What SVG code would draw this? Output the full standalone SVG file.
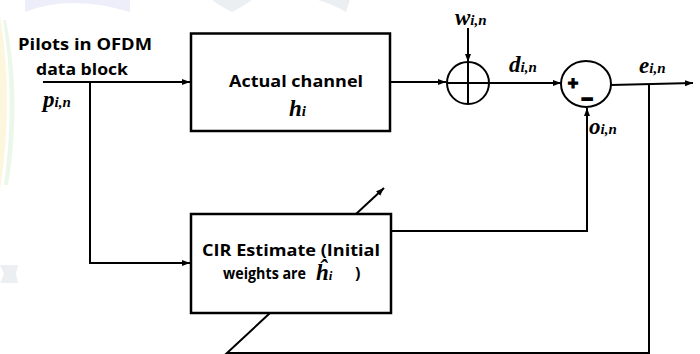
<svg xmlns="http://www.w3.org/2000/svg" width="700" height="354" viewBox="0 0 700 354">
<style>
.ln{fill:none;stroke:#000;stroke-width:2}
.box{fill:#fff;stroke:#000;stroke-width:2.5}
.lbl{font-family:"Open Sans","Liberation Sans",sans-serif;font-weight:bold;font-size:16px;fill:#000}
.m{font-family:"Liberation Serif","DejaVu Serif",serif;font-weight:bold;font-style:italic;font-size:23px;fill:#000}
.s{font-size:15px}
.sym{font-family:"Liberation Sans",sans-serif;font-weight:bold;fill:#000;stroke:#000}
</style>
<defs>
<marker id="ah" markerUnits="userSpaceOnUse" markerWidth="9" markerHeight="7" refX="8" refY="3" orient="auto">
<path d="M0,0 L8,3 L0,6 z" fill="#000"/>
</marker>
</defs>
<rect width="700" height="354" fill="#fff"/>
<g id="watermark" opacity="0.6">
<path d="M0,15 Q14,100 0,190 L0,15 z" fill="#fbf1c8"/>
<path d="M6,20 Q22,100 8,185 L4,185 Q16,100 3,20 z" fill="#dff2dc"/>
<path d="M25,12 Q70,-6 130,12 L130,0 L25,0 z" fill="#e2e4f8"/>
<path d="M212,0 L252,0 Q240,8 232,12 Q220,6 212,0 z" fill="#dfe5e8"/>
<path d="M318,0 L350,0 L346,12 Q332,4 318,0 z" fill="#dfe5e8"/>
<path d="M0,265 L18,265 L16,274 L18,283 L0,283 L4,274 z" fill="#dfe5ea"/>
</g>
<g id="connectors">
<line class="ln" x1="43" y1="82" x2="190" y2="82" marker-end="url(#ah)"/>
<polyline class="ln" points="90,82 90,263 190,263" marker-end="url(#ah)"/>
<line class="ln" x1="391" y1="82" x2="446" y2="82" marker-end="url(#ah)"/>
<line class="ln" x1="468" y1="28" x2="468" y2="62" marker-end="url(#ah)"/>
<line class="ln" x1="489" y1="83" x2="561" y2="83" marker-end="url(#ah)"/>
<line class="ln" x1="611" y1="85" x2="693" y2="83" marker-end="url(#ah)"/>
<polyline class="ln" points="391,231 587,231 587,108" marker-end="url(#ah)"/>
<polyline class="ln" points="649,84 649,353 227,353 270,313"/>
<line class="ln" x1="356" y1="214" x2="384" y2="188" marker-end="url(#ah)"/>
</g>
<g id="input-label">
<text class="lbl" x="18" y="50" textLength="134" lengthAdjust="spacingAndGlyphs">Pilots in OFDM</text>
<text class="lbl" x="36" y="75" textLength="92" lengthAdjust="spacingAndGlyphs">data block</text>
<text class="m" x="43" y="107">p<tspan class="s">i,n</tspan></text>
</g>
<g id="actual-channel">
<rect class="box" x="191" y="33.5" width="199" height="97.5"/>
<text class="lbl" x="229" y="87" textLength="134" lengthAdjust="spacingAndGlyphs">Actual channel</text>
<text class="m" x="289" y="116">h<tspan class="s">i</tspan></text>
</g>
<g id="cir-estimate">
<rect class="box" x="191" y="214" width="200" height="99"/>
<text class="lbl" x="202" y="256" textLength="178" lengthAdjust="spacingAndGlyphs">CIR Estimate (Initial</text>
<text class="lbl" x="223" y="279" textLength="83" lengthAdjust="spacingAndGlyphs">weights are</text>
<text class="m" x="316" y="280" font-size="19">ĥ<tspan font-size="13">i</tspan></text>
<text class="lbl" x="355" y="279">)</text>
</g>
<g id="adder">
<circle class="ln" cx="468" cy="83" r="21"/>
<line class="ln" x1="468" y1="62" x2="468" y2="104"/>
<line class="ln" x1="447" y1="83" x2="489" y2="83"/>
<text class="m" x="455" y="25">w<tspan class="s">i,n</tspan></text>
</g>
<g id="subtractor">
<ellipse class="ln" cx="586" cy="84" rx="25" ry="23"/>
<text class="sym" x="573" y="89" font-size="18" stroke-width="1.2" text-anchor="middle">+</text>
<text class="sym" x="587" y="106" font-size="20" stroke-width="1.6" text-anchor="middle">−</text>
</g>
<g id="signal-labels">
<text class="m" x="509" y="72">d<tspan class="s">i,n</tspan></text>
<text class="m" x="639" y="73">e<tspan class="s">i,n</tspan></text>
<text class="m" x="589" y="134">o<tspan class="s">i,n</tspan></text>
</g>
</svg>
